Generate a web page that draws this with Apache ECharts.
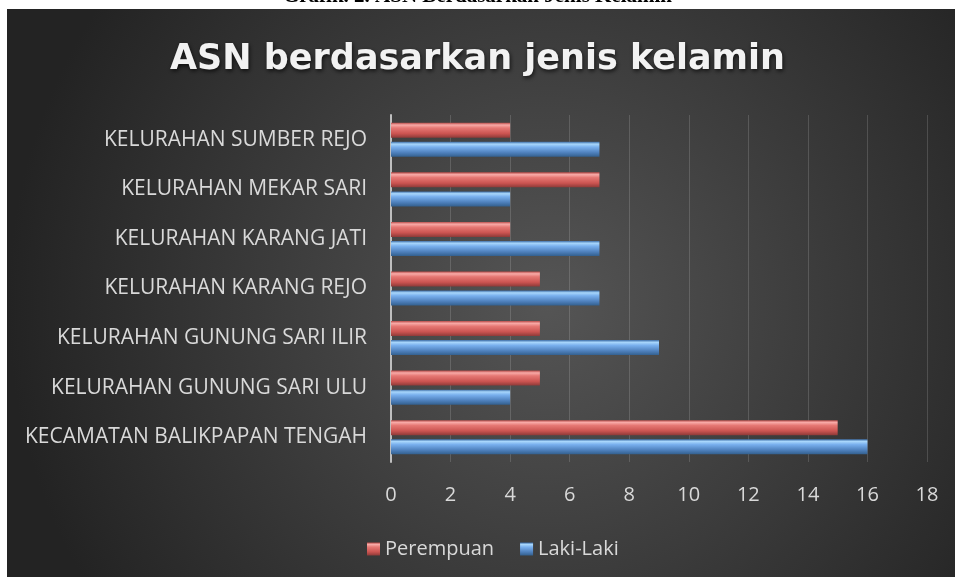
<!DOCTYPE html>
<html>
<head>
<meta charset="utf-8">
<script src="https://cdn.jsdelivr.net/npm/echarts@6/dist/echarts.min.js"></script>
<style>
  html, body { margin: 0; padding: 0; background: #fff; }
  #chart { width: 955px; height: 577px; }
</style>
</head>
<body>
<div id="chart"></div>
<script>
// data (bottom to top, as the y axis runs)
const categories = [
  'KECAMATAN BALIKPAPAN TENGAH',
  'KELURAHAN GUNUNG SARI ULU',
  'KELURAHAN GUNUNG SARI ILIR',
  'KELURAHAN KARANG REJO',
  'KELURAHAN KARANG JATI',
  'KELURAHAN MEKAR SARI',
  'KELURAHAN SUMBER REJO'
]
const lakiLaki = [16, 4, 9, 7, 7, 4, 7]
const perempuan = [15, 5, 5, 5, 4, 7, 4]

const bevel = (edge, hi, mid, base, dark) => ({
  type: 'linear', x: 0, y: 0, x2: 0, y2: 1,
  colorStops: [
    { offset: 0, color: edge },
    { offset: 0.15, color: hi },
    { offset: 0.35, color: mid },
    { offset: 0.72, color: base },
    { offset: 1, color: dark }
  ]
})
const blue = bevel('#3d6ea8', '#a8d6fb', '#79b0ee', '#4f81bd', '#33608f')
const red = bevel('#b84c49', '#f8aaa7', '#e67874', '#cb5451', '#8e3a38')

const chart = echarts.init(document.getElementById('chart'))
chart.setOption({
  backgroundColor: '#fff',
  graphic: [
    {
      type: 'rect', left: 7, top: 9, z: -10,
      shape: { width: 948, height: 568 },
      style: {
        fill: {
          type: 'radial', x: 0.57, y: 0.52, r: 0.95,
          colorStops: [
            { offset: 0, color: '#555555' },
            { offset: 1, color: '#232323' }
          ]
        }
      }
    },
    {
      type: 'text', left: 'center', top: -14, z: -5,
      style: {
        text: 'Grafik. 2. ASN Berdasarkan Jenis Kelamin',
        font: 'bold 21px "Liberation Serif"',
        fill: '#000'
      }
    }
  ],
  title: {
    text: 'ASN berdasarkan jenis kelamin',
    left: 'center',
    top: 37,
    textStyle: {
      fontFamily: 'DejaVu Sans',
      fontWeight: 'bold',
      fontSize: 35,
      color: '#f2f2f2',
      textShadowColor: 'rgba(0,0,0,0.7)',
      textShadowBlur: 4,
      textShadowOffsetX: 1,
      textShadowOffsetY: 2
    }
  },
  legend: {
    bottom: 13,
    left: 362,
    itemWidth: 13,
    itemHeight: 13,
    itemGap: 26,
    icon: 'rect',
    data: ['Perempuan', 'Laki-Laki'],
    textStyle: { color: '#d9d9d9', fontFamily: 'Open Sans', fontSize: 20 }
  },
  grid: { left: 391, right: 28, top: 115, bottom: 115 },
  xAxis: {
    type: 'value',
    min: 0,
    max: 18,
    interval: 2,
    axisLine: { show: false },
    axisTick: { show: false },
    splitLine: { lineStyle: { color: 'rgba(255,255,255,0.15)', width: 1 } },
    axisLabel: { color: '#d9d9d9', fontFamily: 'Open Sans', fontSize: 20, margin: 23 }
  },
  yAxis: {
    type: 'category',
    data: categories,
    axisLine: { show: true, lineStyle: { color: '#bfbfbf', width: 2 } },
    axisTick: { show: false },
    axisLabel: { color: '#d9d9d9', fontFamily: 'Open Sans', fontSize: 21, margin: 24 }
  },
  series: [
    {
      name: 'Perempuan',
      type: 'bar',
      data: perempuan,
      barWidth: 15,
      barGap: '27%',
      itemStyle: { color: red, shadowColor: 'rgba(0,0,0,0.5)', shadowBlur: 3, shadowOffsetY: 2 }
    },
    {
      name: 'Laki-Laki',
      type: 'bar',
      data: lakiLaki,
      barWidth: 15,
      barGap: '27%',
      itemStyle: { color: blue, shadowColor: 'rgba(0,0,0,0.5)', shadowBlur: 3, shadowOffsetY: 2 }
    }
  ]
})
</script>
</body>
</html>
